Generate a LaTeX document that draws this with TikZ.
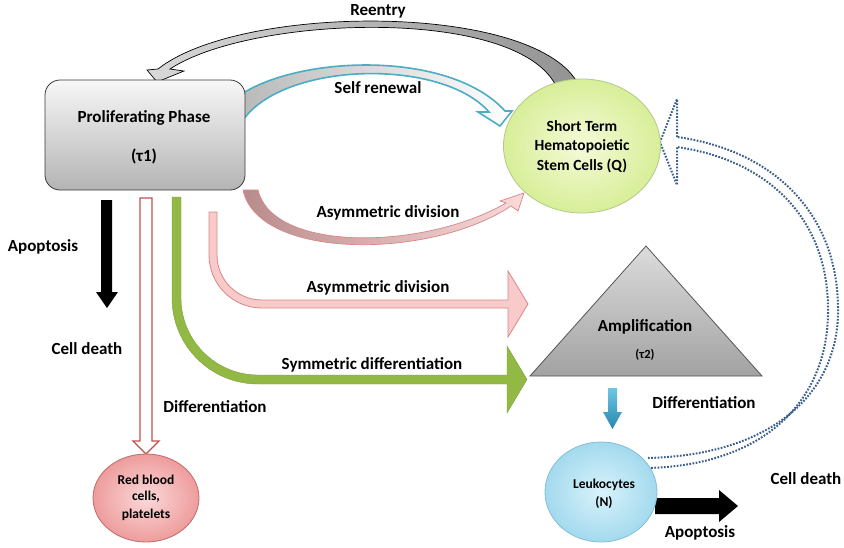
\documentclass[tikz,border=0pt]{standalone}
\usepackage{fontspec}
\setmainfont{Carlito}
\usetikzlibrary{shapes.geometric}
\pgfdeclarelayer{bg}
\pgfsetlayers{bg,main}
\definecolor{boxtop}{HTML}{F7F7F7}
\definecolor{boxbot}{HTML}{B4B4B4}
\definecolor{boxline}{HTML}{3A3A3A}
\definecolor{hscin}{HTML}{F4FBD8}
\definecolor{hscout}{HTML}{D8EE98}
\definecolor{hscline}{HTML}{B3C98A}
\definecolor{tritop}{HTML}{DCDCDC}
\definecolor{tribot}{HTML}{A2A2A2}
\definecolor{triline}{HTML}{555555}
\definecolor{leuin}{HTML}{D9F2FB}
\definecolor{leuout}{HTML}{A3DAEE}
\definecolor{leuline}{HTML}{82BED6}
\definecolor{rbcin}{HTML}{FBD9D9}
\definecolor{rbcout}{HTML}{EE9C9C}
\definecolor{rbcline}{HTML}{C26A6A}
\definecolor{teal}{HTML}{4BACC6}
\definecolor{pinkfill}{HTML}{F9CACA}
\definecolor{pinkline}{HTML}{D98686}
\definecolor{pinkdark}{HTML}{B98C8C}
\definecolor{greenfill}{HTML}{92B944}
\definecolor{redline}{HTML}{C0504D}
\definecolor{dotblue}{HTML}{3B5E8A}
\definecolor{bluetop}{HTML}{6FC6E2}
\definecolor{bluebot}{HTML}{2687AE}
\begin{document}
\begin{tikzpicture}[x=1pt,y=-1pt,
  lbl/.style={font=\bfseries\fontsize{17}{20}\selectfont, inner sep=0pt},
  smalllbl/.style={font=\bfseries\fontsize{15.5}{18}\selectfont, inner sep=0pt},
  tinylbl/.style={font=\bfseries\fontsize{13.5}{16}\selectfont, inner sep=0pt},
  procbox/.style={rectangle, rounded corners=15pt, minimum width=200pt, minimum height=110pt,
    top color=boxtop, bottom color=boxbot, draw=boxline, line width=0.8pt},
  hscnode/.style={ellipse, minimum width=157pt, minimum height=134pt,
    inner color=hscin, outer color=hscout, draw=hscline, line width=0.8pt},
  leunode/.style={ellipse, minimum width=112pt, minimum height=100pt,
    inner color=leuin, outer color=leuout, draw=leuline, line width=0.8pt},
  rbcnode/.style={ellipse, minimum width=106pt, minimum height=88pt,
    inner color=rbcin, outer color=rbcout, draw=rbcline, line width=0.8pt},
  dotarrow/.style={draw=dotblue, line width=2pt, dash pattern=on 1.7pt off 1.5pt},
]
\useasboundingbox (0,0) rectangle (844,547);

% ---------- nodes ----------
\node[procbox] (prolif) at (145,135) {};
\node[lbl] (prolifT) at (144,118) {Proliferating Phase};
\node[lbl] (tau1) at (144,156) {(τ1)};

\node[hscnode] (hsc) at (582,146) {};
\node[smalllbl] (hsc1) at (582,126) {Short Term};
\node[smalllbl] (hsc2) at (582,146) {Hematopoietic};
\node[smalllbl] (hsc3) at (582,166) {Stem Cells (Q)};

\path[draw=triline, line width=0.8pt, top color=tritop, bottom color=tribot]
  (646,246) -- (762,376) -- (530,376) -- cycle;
\coordinate (amp) at (646,330);
\node[lbl] (ampT) at (645,327) {Amplification};
\node[font=\bfseries\fontsize{12.5}{15}\selectfont, inner sep=0pt] (tau2) at (645,355) {(τ2)};

\node[leunode] (leu) at (601,492) {};
\node[tinylbl] (leu1) at (604,485) {Leukocytes};
\node[tinylbl] (leu2) at (604,503) {(N)};

\node[rbcnode] (rbc) at (146,498) {};
\node[tinylbl] (rbc1) at (146,480) {Red blood};
\node[tinylbl] (rbc2) at (146,497) {cells,};
\node[tinylbl] (rbc3) at (146,515) {platelets};

% ---------- labels ----------
\node[lbl] (lReentry) at (378,11) {Reentry};
\node[lbl] (lSelf) at (378,88) {Self renewal};
\node[lbl] (lAsym1) at (388,213) {Asymmetric division};
\node[lbl] (lAsym2) at (378,288) {Asymmetric division};
\node[lbl] (lSym) at (372,365) {Symmetric differentiation};
\node[lbl] (lDiffL) at (215,407) {Differentiation};
\node[lbl] (lApoL) at (43,247) {Apoptosis};
\node[lbl] (lDeathL) at (87,349) {Cell death};
\node[lbl] (lDiffR) at (704,403) {Differentiation};
\node[lbl] (lDeathR) at (806,479) {Cell death};
\node[lbl] (lApoR) at (700,533) {Apoptosis};

% ---------- arrows (behind the shapes) ----------
\begin{pgfonlayer}{bg}
% Reentry: tapered grey arrow from HSC back to the proliferating phase
\path[draw=black, line width=0.7pt, left color=gray!30, right color=gray!85]
  (577,82) .. controls (530,2) and (240,4) .. (158,69)
  -- (147,70) -- (157,82) -- (184,71) -- (170,69)
  .. controls (250,16) and (512,6) .. (555,84) -- cycle;

% Self renewal: hollow teal curved arrow
\path[draw=teal, line width=1.6pt, left color=gray!55, middle color=white, right color=white]
  (240,95) .. controls (300,55) and (450,50) .. (505,111)
  -- (512,111) -- (500,126) -- (478,112) -- (489,112)
  .. controls (440,56) and (275,62) .. (240,125) -- cycle;

% Asymmetric division (to HSC)
\path[draw=pinkline, line width=0.7pt, left color=pinkdark, right color=pinkfill!70]
  (243,190) .. controls (258,260) and (430,260) .. (511,206)
  -- (518,211) -- (524,193) -- (500,201) -- (506,203)
  .. controls (425,250) and (273,253) .. (258,190) -- cycle;

% Asymmetric division (to amplification): L-shaped pink arrow
\path[draw=pinkline, line width=0.8pt, fill=pinkfill]
  (209,212) -- (209,255) .. controls (209,284.3) and (232.7,308) .. (262,308)
  -- (508,308) -- (508,337) -- (528,304) -- (508,271) -- (508,300)
  -- (262,300) .. controls (237.1,300) and (217,279.9) .. (217,255)
  -- (217,212) -- cycle;

% Symmetric differentiation: green L-shaped arrow
\path[fill=greenfill, draw=greenfill!85!black, line width=0.4pt]
  (172,197) -- (172,298) .. controls (172,345.5) and (210.5,384) .. (258,384)
  -- (507,384) -- (507,413) -- (527,379.5) -- (507,346) -- (507,375)
  -- (258,375) .. controls (215.5,375) and (181,340.5) .. (181,298)
  -- (181,197) -- cycle;

% Apoptosis (left): black arrow
\path[fill=black]
  (101,200) -- (112,200) -- (112,292) -- (118,292) -- (107,308) -- (96,292) -- (101,292) -- cycle;

% Differentiation to red blood cells: hollow red arrow
\path[draw=redline, line width=1.3pt, fill=white]
  (140,198) -- (152,198) -- (152,441) -- (159,441) -- (146,454) -- (133,441) -- (140,441) -- cycle;

% Differentiation: blue arrow from amplification to leukocytes
\path[top color=bluetop, bottom color=bluebot]
  (608,388) -- (617,388) -- (617,412) -- (622,412) -- (612.5,429) -- (603,412) -- (608,412) -- cycle;

% Apoptosis (right): black arrow from leukocytes
\path[fill=black]
  (655,498) -- (719,498) -- (719,490) -- (738,506) -- (719,522) -- (719,514) -- (655,514) -- cycle;

% Cell death: dotted hollow arrow from leukocytes back to HSC
\draw[dotarrow]
  (648,458) .. controls (772,455) and (840,393) .. (838,307)
  .. controls (837,212) and (772,150) .. (677,137);
\draw[dotarrow]
  (648,468) .. controls (768,465) and (830,397) .. (828,307)
  .. controls (827,218) and (768,160) .. (677,147);
\draw[dotarrow] (677,137) -- (677,99) -- (660,142) -- (677,185) -- (677,147);
\end{pgfonlayer}
\end{tikzpicture}
\end{document}
